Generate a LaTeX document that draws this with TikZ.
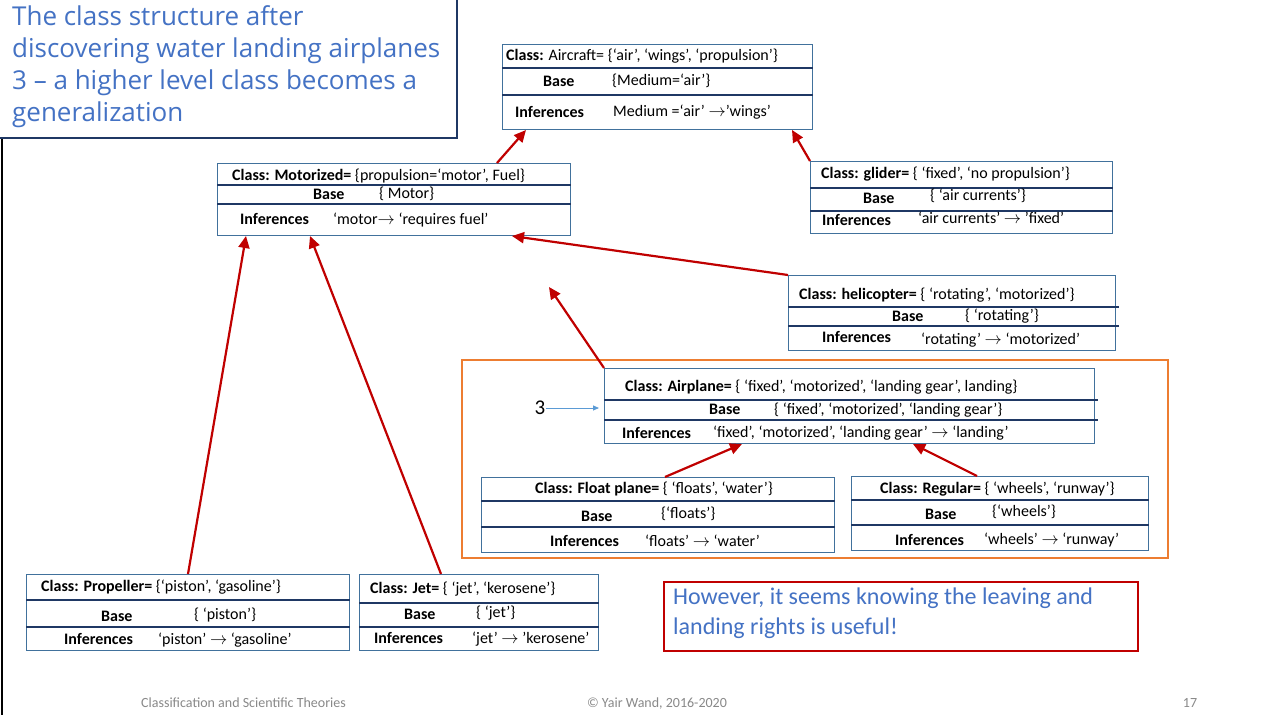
\documentclass[tikz,border=0pt]{standalone}
\usepackage{fontspec}
\setmainfont{Carlito}
\newfontfamily\headfont{Open Sans}
\usetikzlibrary{arrows.meta}
\definecolor{boxline}{HTML}{41719C}
\definecolor{rowline}{HTML}{1F3864}
\definecolor{arrowred}{HTML}{C00000}
\definecolor{noteblue}{HTML}{4472C4}
\definecolor{orangeframe}{HTML}{ED7D31}
\definecolor{footgray}{HTML}{898989}
\definecolor{pointerblue}{HTML}{5B9BD5}

% class box: name, x1, y1, x2, y2, first divider y, second divider y, divider overhang
\newcommand\classframe[8]{%
  \node[classbox, anchor=north west, minimum width=#4-#2, minimum height=#5-#3] (#1) at (#2,#3) {};
  \draw[rowrule] (#1.west |- 0,#6) -- ([xshift=#8]#1.east |- 0,#6);
  \draw[rowrule] (#1.west |- 0,#7) -- ([xshift=#8]#1.east |- 0,#7);
}

\begin{document}
\begin{tikzpicture}[x=1pt,y=-1pt,
  classbox/.style={draw=boxline, line width=1pt, fill=white, inner sep=0pt},
  rowrule/.style={draw=rowline, line width=1.4pt},
  cls/.style={anchor=west, inner sep=0pt, font=\fontsize{16}{18}\selectfont},
  link/.style={draw=arrowred, line width=2.2pt, -{Triangle[length=12pt,width=11pt]}},
  foot/.style={inner sep=0pt, text=footgray, font=\fontsize{14}{16}\selectfont},
]
\useasboundingbox (0,0) rectangle (1278,715);
\fill[white] (0,0) rectangle (1278,715);

% slide frame edge
\draw[line width=2pt] (2,0) -- (2,715);

% heading
\node[draw=rowline, line width=2.2pt, fill=white, anchor=north west, minimum width=458, minimum height=139, inner sep=0pt] (headbox) at (-2,-2) {};
\node[anchor=north west, inner sep=0pt, align=left, text=noteblue, font=\headfont\fontsize{26}{32}\selectfont] (headtext) at (12,5)
  {The class structure after\\discovering water landing airplanes\\3 – a higher level class becomes a\\generalization};

% frame around the airplane sub-hierarchy
\node[draw=orangeframe, line width=2.4pt, anchor=north west, minimum width=706, minimum height=198, inner sep=0pt] (orangebox) at (461,359) {};

% class boxes
\classframe{aircraft}{502}{44}{812}{129}{68}{95}{0pt}
\node[cls] (aircraftT) at (506,56) {\textbf{Class:} Aircraft= \{‘air’, ‘wings’, ‘propulsion’\}};
\node[cls] (aircraftB) at (543,81) {\textbf{Base}};
\node[cls] (aircraftBV) at (612,81) {\{Medium=‘air’\}};
\node[cls] (aircraftI) at (515,112) {\textbf{Inferences}};
\node[cls] (aircraftIV) at (613,112) {Medium =‘air’ $\rightarrow$’wings’};

\classframe{motorized}{217}{163}{570}{235}{185}{204}{0pt}
\node[cls] (motorizedT) at (232,176) {\textbf{Class: Motorized=} \{propulsion=‘motor’, Fuel\}};
\node[cls] (motorizedB) at (313,194) {\textbf{Base}};
\node[cls] (motorizedBV) at (379,194) {\{ Motor\}};
\node[cls] (motorizedI) at (240,219) {\textbf{Inferences}};
\node[cls] (motorizedIV) at (333,220) {‘motor$\rightarrow$ ‘requires fuel’};

\classframe{glider}{810}{161}{1112}{233}{188}{211}{0pt}
\node[cls] (gliderT) at (821,174) {\textbf{Class: glider=} \{ ‘fixed’, ‘no propulsion’\}};
\node[cls] (gliderB) at (863,198) {\textbf{Base}};
\node[cls] (gliderBV) at (930,196) {\{ ‘air currents’\}};
\node[cls] (gliderI) at (822,220) {\textbf{Inferences}};
\node[cls] (gliderIV) at (918,218) {‘air currents’ $\rightarrow$ ’fixed’};

\classframe{helicopter}{788}{275}{1115}{350}{307}{326}{3pt}
\node[cls] (helicopterT) at (799,295) {\textbf{Class: helicopter=} \{ ‘rotating’, ‘motorized’\}};
\node[cls] (helicopterB) at (892,316) {\textbf{Base}};
\node[cls] (helicopterBV) at (965,316) {\{ ‘rotating’\}};
\node[cls] (helicopterI) at (822,337) {\textbf{Inferences}};
\node[cls] (helicopterIV) at (921,340) {‘rotating’ $\rightarrow$ ‘motorized’};

\classframe{airplane}{604}{368}{1094}{443}{400}{420}{3pt}
\node[cls] (airplaneT) at (625,387) {\textbf{Class: Airplane=} \{ ‘fixed’, ‘motorized’, ‘landing gear’, landing\}};
\node[cls] (airplaneB) at (709,409) {\textbf{Base}};
\node[cls] (airplaneBV) at (774,410) {\{ ‘fixed’, ‘motorized’, ‘landing gear’\}};
\node[cls] (airplaneI) at (622,433) {\textbf{Inferences}};
\node[cls] (airplaneIV) at (713,433) {‘fixed’, ‘motorized’, ‘landing gear’ $\rightarrow$ ‘landing’};

\classframe{floatplane}{481}{477}{834}{552}{501}{527}{0pt}
\node[cls] (floatplaneT) at (535,489) {\textbf{Class: Float plane=} \{ ‘floats’, ‘water’\}};
\node[cls] (floatplaneB) at (581,516) {\textbf{Base}};
\node[cls] (floatplaneBV) at (661,514) {\{‘floats’\}};
\node[cls] (floatplaneI) at (550,541) {\textbf{Inferences}};
\node[cls] (floatplaneIV) at (645,541) {‘floats’ $\rightarrow$ ‘water’};

\classframe{regular}{851}{476}{1148}{550}{500}{525}{0pt}
\node[cls] (regularT) at (880,489) {\textbf{Class: Regular=} \{ ‘wheels’, ‘runway’\}};
\node[cls] (regularB) at (925,514) {\textbf{Base}};
\node[cls] (regularBV) at (992,512) {\{‘wheels’\}};
\node[cls] (regularI) at (895,540) {\textbf{Inferences}};
\node[cls] (regularIV) at (984,540) {‘wheels’ $\rightarrow$ ‘runway’};

\classframe{propeller}{26}{574}{349}{650}{600}{627}{0pt}
\node[cls] (propellerT) at (41,587) {\textbf{Class: Propeller=} \{‘piston’, ‘gasoline’\}};
\node[cls] (propellerB) at (101,616) {\textbf{Base}};
\node[cls] (propellerBV) at (194,615) {\{ ‘piston’\}};
\node[cls] (propellerI) at (64,639) {\textbf{Inferences}};
\node[cls] (propellerIV) at (158,640) {‘piston’ $\rightarrow$ ‘gasoline’};

\classframe{jet}{359}{574}{598}{650}{603}{627}{0pt}
\node[cls] (jetT) at (370,589) {\textbf{Class: Jet=} \{ ‘jet’, ‘kerosene’\}};
\node[cls] (jetB) at (404,614) {\textbf{Base}};
\node[cls] (jetBV) at (476,613) {\{ ‘jet’\}};
\node[cls] (jetI) at (374,638) {\textbf{Inferences}};
\node[cls] (jetIV) at (472,639) {‘jet’ $\rightarrow$ ’kerosene’};

% generalisation links
\coordinate (airplaneTip) at (549,287);
\draw[link] (motorized.north -| 497,0) -- (aircraft.south -| 526,0);
\draw[link] (glider.north west) -- (aircraft.south -| 792,0);
\draw[link] (propeller.north -| 188,0) -- (motorized.south -| 246,0);
\draw[link] (jet.north -| 441,0) -- (motorized.south -| 310,0);
\draw[link] (helicopter.north west) -- (motorized.south -| 512,0);
\draw[link] (airplane.north west) -- (airplaneTip);
\draw[link] (floatplane.north -| 665,0) -- (airplane.south -| 742,0);
\draw[link] (regular.north -| 977,0) -- (airplane.south -| 913,0);

% step marker
\node[inner sep=0pt, font=\fontsize{21}{24}\selectfont] (three) at (540,408) {3};
\draw[pointerblue, line width=0.8pt, -{Triangle[length=6pt,width=5pt]}, shorten >=5pt] (three.east) -- (airplane.west |- three);

% remark
\node[draw=arrowred, line width=2.4pt, anchor=north west, minimum width=474, minimum height=69, inner sep=0pt] (note) at (663,581) {};
\node[anchor=north west, inner sep=0pt, align=left, text=noteblue, font=\fontsize{24}{30}\selectfont] (notetext) at (673,588)
  {However, it seems knowing the leaving and\\landing rights is useful!};

% footer
\node[foot, anchor=base west] (footleft) at (141,707) {Classification and Scientific Theories};
\node[foot, anchor=base] (footmid) at (657,707) {© Yair Wand, 2016-2020};
\node[foot, anchor=base] (footpage) at (1190,707) {17};
\end{tikzpicture}
\end{document}
